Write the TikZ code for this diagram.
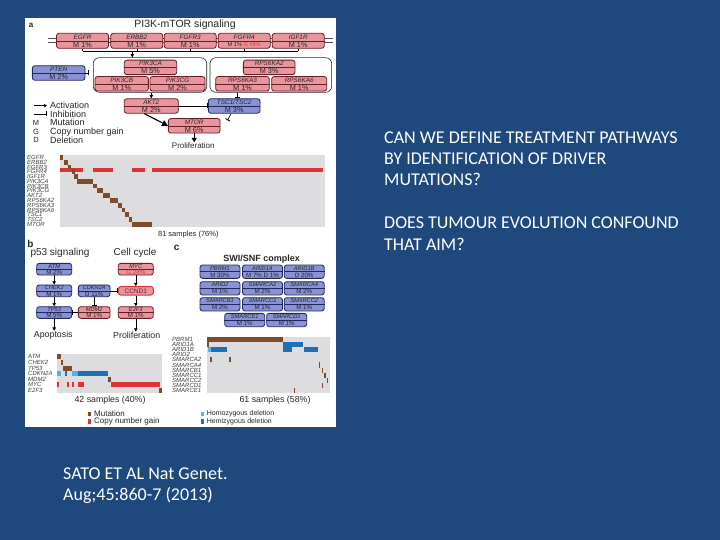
\documentclass[tikz,border=0pt]{standalone}
\usepackage{fontspec}
\setmainfont{Carlito}
\newfontfamily\figfont{Liberation Sans}
\usetikzlibrary{arrows.meta,calc}
\definecolor{slideblue}{RGB}{31,73,125}
\definecolor{boxpink}{RGB}{232,150,158}
\definecolor{boxred}{RGB}{105,28,38}
\definecolor{boxblue}{RGB}{136,146,212}
\definecolor{boxnavy}{RGB}{34,38,94}
\definecolor{oncogray}{RGB}{221,221,224}
\definecolor{mutbrown}{RGB}{128,74,44}
\definecolor{cnred}{RGB}{222,50,52}
\definecolor{hemiblue}{RGB}{32,110,182}
\definecolor{homoblue}{RGB}{72,182,232}

\begin{document}
\begin{tikzpicture}[x=1pt, y=-1pt, font=\figfont,
  gbox/.style={rounded corners=2.5pt, line width=0.8pt, inner sep=0pt},
  pinkbox/.style={gbox, draw=boxred, fill=boxpink},
  bluebox/.style={gbox, draw=boxnavy, fill=boxblue},
  grpbox/.style={draw=black!85, rounded corners=6pt, line width=0.6pt, inner sep=0pt},
  gname/.style={inner sep=0pt, text=black!85, font=\figfont\itshape\fontsize{6.4}{6.4}\selectfont},
  gval/.style={inner sep=0pt, text=black!85, font=\figfont\fontsize{7.3}{7.3}\selectfont},
  sname/.style={gname, font=\figfont\itshape\fontsize{5.7}{5.7}\selectfont},
  sval/.style={gval, font=\figfont\fontsize{6.2}{6.2}\selectfont},
  act/.style={-{Triangle[length=3.2pt,width=3.4pt]}, line width=0.6pt},
  inh/.style={-{Bar[width=5pt,line width=0.9pt]}, line width=0.6pt},
  rowlbl/.style={anchor=west, inner sep=0pt, text=black!75, font=\figfont\itshape\fontsize{6}{6}\selectfont},
  figtxt/.style={inner sep=0pt, text=black!85},
  slidetxt/.style={anchor=base west, inner sep=0pt, text=white, font=\rmfamily\fontsize{18}{21}\selectfont}]
  \useasboundingbox (0,0) rectangle (720,540);
  \fill[slideblue] (0,0) rectangle (720,540);
  % figure panel
  \fill[white] (25,18) rectangle (336,427);

  % ---- a: PI3K-mTOR pathway
  \node[figtxt, font=\figfont\bfseries\fontsize{8}{8}\selectfont] (lbla) at (31,25) {a};
  \node[figtxt, font=\figfont\fontsize{10.5}{10.5}\selectfont] (titlea) at (185,25) {PI3K-mTOR signaling};
  % membrane
  \draw[line width=0.5pt, black!70] (48,38.3) -- (333,38.3) (48,42.6) -- (333,42.6);
  % receptors
  \foreach \n/\x/\g in {egfr/82.5/EGFR, erbb2/136.8/ERBB2, fgfr3/190.2/FGFR3, fgfr4/244.2/FGFR4, igf1r/298.2/IGF1R}{
    \node[pinkbox, minimum width=52pt, minimum height=15pt] (\n) at (\x,40.8) {};
    \draw[boxred, line width=0.5pt] (\n.west) -- (\n.east);
    \node[gname] (\n-g) at ($(\n.center)!0.5!(\n.north)$) {\g};}
  \foreach \n in {egfr,erbb2,fgfr3,igf1r}{
    \node[gval] (\n-v) at ($(\n.center)!0.5!(\n.south)$) {M 1\%};}
  \node[gval, font=\figfont\fontsize{5.6}{5.6}\selectfont] (fgfr4-v) at ($(fgfr4.center)!0.5!(fgfr4.south)$) {M 1\% \textcolor{cnred}{G 48\%}};
  % receptor bus
  \coordinate (bus) at (82.5,51);
  \foreach \n in {egfr,erbb2,fgfr3,fgfr4,igf1r}{\draw[line width=0.6pt] (\n.south) -- (\n.south |- bus);}
  \draw[line width=0.6pt] (egfr.south |- bus) -- (igf1r.south |- bus);
  \coordinate (busout) at (132.3,51);
  % groups
  \node[grpbox, minimum width=113.4pt, minimum height=34.6pt] (pikgrp) at (150,75) {};
  \node[grpbox, minimum width=121.7pt, minimum height=34.6pt] (rpsgrp) at (270.8,75) {};
  \draw[act] (busout) -- (busout |- pikgrp.north);
  % pathway members
  \foreach \s/\n/\x/\y/\w/\g/\v in {
      bluebox/pten/58.7/73/52.7/PTEN/M 2\%,
      pinkbox/pik3ca/150.5/67.4/52.4/PIK3CA/M 5\%,
      pinkbox/pik3cb/121.7/83.8/53.3/PIK3CB/M 1\%,
      pinkbox/pik3cg/177.5/83.8/55/PIK3CG/M 2\%,
      pinkbox/rps6ka2/269.2/67.4/51.7/RPS6KA2/M 3\%,
      pinkbox/rps6ka3/242.5/83.8/53.6/RPS6KA3/M 1\%,
      pinkbox/rps6ka6/299.2/83.8/55/RPS6KA6/M 1\%,
      pinkbox/akt2/151.3/106/54/AKT2/M 2\%,
      bluebox/tsc/234.2/106/51.7/{TSC1/TSC2}/M 3\%,
      pinkbox/mtor/194.2/125.8/51.7/MTOR/M 6\%}{
    \node[\s, minimum width=\w, minimum height=14.5pt] (\n) at (\x,\y) {};
    \draw[\s, fill=none, line width=0.5pt] (\n.west) -- (\n.east);
    \node[gname] (\n-g) at ($(\n.center)!0.5!(\n.north)$) {\g};
    \node[gval] (\n-v) at ($(\n.center)!0.5!(\n.south)$) {\v};}
  % interactions
  \draw[inh] (pten.east) -- ($(pikgrp.west |- pten.east)+(-4,0)$);
  \draw[act] (akt2.north |- pikgrp.south) -- (akt2.north);
  \coordinate (tscin) at ($(tsc.north)+(3,0)$);
  \draw[inh] (tscin |- rpsgrp.south) -- (tscin);
  \draw[inh] (akt2.east) -- (tsc.west);
  \draw[-{Triangle[length=6pt,width=6pt]}, line width=1.1pt] ($(akt2.south)+(-7,0)$) -- (mtor.west);
  \draw[inh] ($(tsc.south)+(-3,0)$) -- ($(mtor.north east)+(7,2)$);
  \node[figtxt, font=\figfont\fontsize{8}{8}\selectfont] (prolifa) at (193.3,145.5) {Proliferation};
  \draw[-{Triangle[length=4.5pt,width=5pt]}, line width=1pt] (mtor.south) -- (mtor.south |- prolifa.north);
  % legend
  \foreach \t/\yy [count=\i] in {Activation/105.7, Inhibition/114, Mutation/122.7, Copy number gain/131.7, Deletion/140}{
    \node[figtxt, anchor=west, font=\figfont\fontsize{9}{9}\selectfont] (leg\i) at (50,\yy) {\t};}
  \coordinate (act0) at (34,105.7);
  \coordinate (inh0) at (34,114);
  \draw[act] (act0) -- ($(leg1.west)+(-3,0)$);
  \draw[inh] (inh0) -- ($(leg2.west)+(-3,0)$);
  \foreach \t/\yy in {M/122.7, G/131.7, D/140}{
    \node[figtxt, font=\figfont\fontsize{7.5}{7.5}\selectfont] (key\t) at (36,\yy) {\t};}

  % ---- a: oncoprint
  \fill[oncogray] (60,155) rectangle (325,226.7);
  \foreach \g [count=\i] in {EGFR,ERBB2,FGFR3,FGFR4,IGF1R,PIK3CA,PIK3CB,PIK3CG,AKT2,RPS6KA2,RPS6KA3,RPS6KA6,TSC1,TSC2,MTOR}{
    \node[rowlbl] (ra\i) at (27,{155+(\i-0.5)*4.78}) {\g};}
  \foreach \xa/\xb in {60/83.3, 93.3/113.3, 131.7/145, 151.7/323.3}{
    \fill[cnred] (\xa,167.7) rectangle (\xb,172.2);}
  \foreach \r/\xa/\xb in {1/60/63.3, 2/64.3/67.7, 3/67.7/71, 4/71.7/75, 5/74.3/77.7, 6/76.7/93.3, 7/93.3/96.7, 8/96.7/103.3,
      9/103.3/110, 10/110/118.3, 11/118.3/121.7, 12/121.7/125, 13/125/129, 14/129/132.3, 15/132.3/151.7}{
    \fill[mutbrown] (\xa,{155+(\r-1)*4.78}) rectangle (\xb,{155+\r*4.78});}
  \node[figtxt, font=\figfont\fontsize{7.5}{7.5}\selectfont] (cnta) at (188.3,234.3) {81 samples (76\%)};

  % ---- b: p53 and cell cycle
  \node[figtxt, font=\figfont\bfseries\fontsize{10}{10}\selectfont] (lblb) at (30.5,244) {b};
  \node[figtxt, font=\figfont\fontsize{10}{10}\selectfont] (p53t) at (60,253.3) {p53 signaling};
  \node[figtxt, font=\figfont\fontsize{10}{10}\selectfont] (cyct) at (135,253.3) {Cell cycle};
  \foreach \s/\n/\x/\y/\w/\g/\v in {
      bluebox/atm/54.2/269.2/35/ATM/M 2\%,
      bluebox/chek2/54.2/290.8/35/CHEK2/M 1\%,
      bluebox/tp53/54.2/312.5/35/TP53/M 5\%,
      bluebox/cdkn2a/94.2/290.8/31.7/CDKN2A/D 11\%,
      pinkbox/mdm2/94.2/312.5/31.7/MDM2/M 1\%,
      pinkbox/myc/135.8/269.2/35/MYC/{\textcolor{cnred}{G 28\%}},
      pinkbox/e2f3/135.8/312.5/35/E2F3/M 1\%}{
    \node[\s, minimum width=\w, minimum height=11.7pt] (\n) at (\x,\y) {};
    \draw[\s, fill=none, line width=0.5pt] (\n.west) -- (\n.east);
    \node[sname] (\n-g) at ($(\n.center)!0.5!(\n.north)$) {\g};
    \node[sval] (\n-v) at ($(\n.center)!0.5!(\n.south)$) {\v};}
  \node[pinkbox, draw=cnred, line width=1pt, minimum width=35pt, minimum height=8.5pt, text=boxred,
    font=\figfont\fontsize{6.5}{6.5}\selectfont] (ccnd1) at (135.8,290.8) {CCND1};
  \node[figtxt, font=\figfont\fontsize{8.8}{8.8}\selectfont] (apop) at (53.3,335) {Apoptosis};
  \node[figtxt, font=\figfont\fontsize{8.8}{8.8}\selectfont] (prolifb) at (136.7,335) {Proliferation};
  \draw[act] (atm) -- (chek2);
  \draw[act] (chek2) -- (tp53);
  \draw[act] (tp53.south) -- (tp53.south |- apop.north);
  \draw[inh] (cdkn2a) -- (mdm2);
  \draw[inh] (mdm2) -- (tp53);
  \draw[inh] (cdkn2a) -- (ccnd1);
  \draw[act] (myc) -- (ccnd1);
  \draw[act] (ccnd1) -- (e2f3);
  \draw[act] (e2f3.south) -- (e2f3.south |- prolifb.north);

  % ---- c: SWI/SNF complex
  \node[figtxt, font=\figfont\bfseries\fontsize{10}{10}\selectfont] (lblc) at (176.7,248.3) {c};
  \node[figtxt, font=\figfont\bfseries\fontsize{9}{9}\selectfont] (swit) at (261.7,259) {SWI/SNF complex};
  \foreach \n/\x/\y/\g/\v in {
      pbrm1/220/271.7/PBRM1/M 30\%, arid1a/262.5/271.7/ARID1A/M 7\% D 1\%, arid1b/304.2/271.7/ARID1B/D 20\%,
      arid2/220/288.3/ARID2/M 1\%, smarca2/262.5/288.3/SMARCA2/M 2\%, smarca4/304.2/288.3/SMARCA4/M 2\%,
      smarcb1/220/304.3/SMARCB1/M 2\%, smarcc1/262.5/304.3/SMARCC1/M 1\%, smarcc2/304.2/304.3/SMARCC2/M 1\%,
      smarce1/244.7/320/SMARCE1/M 1\%, smarcd1/286.7/320/SMARCD1/M 1\%}{
    \node[bluebox, minimum width=40pt, minimum height=13.3pt] (\n) at (\x,\y) {};
    \draw[boxnavy, line width=0.5pt] (\n.west) -- (\n.east);
    \node[sname] (\n-g) at ($(\n.center)!0.5!(\n.north)$) {\g};
    \node[sval] (\n-v) at ($(\n.center)!0.5!(\n.south)$) {\v};}

  % ---- b: oncoprint
  \fill[oncogray] (56.7,354) rectangle (161.7,393.3);
  \foreach \g [count=\i] in {ATM,CHEK2,TP53,CDKN2A,MDM2,MYC,E2F3}{
    \node[rowlbl] (rb\i) at (28,{354+(\i-0.5)*5.614}) {\g};}
  \foreach \r/\xa/\xb/\col in {1/56.7/61/mutbrown, 2/61/63.3/mutbrown, 3/63.3/71.7/mutbrown,
      4/56.7/60.5/homoblue, 4/64.5/66.5/hemiblue, 4/71.7/78.3/homoblue, 4/78.3/108.3/hemiblue,
      5/108.3/111/mutbrown, 6/56.7/59/cnred, 6/66.7/69/cnred, 6/71.7/74/cnred, 6/78.3/84.3/cnred,
      6/111/160/cnred, 7/159.3/161.7/mutbrown}{
    \fill[\col] (\xa,{354+(\r-1)*5.614+0.3}) rectangle (\xb,{354+\r*5.614-0.3});}
  \node[figtxt, font=\figfont\fontsize{8.8}{8.8}\selectfont] (cntb) at (110,400.7) {42 samples (40\%)};

  % ---- c: oncoprint
  \fill[oncogray] (206.7,336.7) rectangle (330,393.3);
  \foreach \g [count=\i] in {PBRM1,ARID1A,ARID1B,ARID2,SMARCA2,SMARCA4,SMARCB1,SMARCC1,SMARCC2,SMARCD1,SMARCE1}{
    \node[rowlbl] (rc\i) at (172,{336.7+(\i-0.5)*5.145}) {\g};}
  \foreach \r/\xa/\xb/\col in {1/206.7/283.3/mutbrown, 2/206.7/209/mutbrown, 2/283.3/303.3/hemiblue,
      3/208.3/210.5/homoblue, 3/210.5/226.7/hemiblue, 3/283.3/291.7/hemiblue, 3/304.3/318.3/hemiblue,
      5/210/211.6/mutbrown, 5/229/230.6/mutbrown, 6/318.7/320.3/mutbrown, 7/321.7/323.3/mutbrown,
      8/324.3/326/mutbrown, 9/326.5/328.3/mutbrown, 10/321.7/323.3/mutbrown, 11/293.5/295.1/mutbrown}{
    \fill[\col] (\xa,{336.7+(\r-1)*5.145}) rectangle (\xb,{336.7+\r*5.145});}
  \node[figtxt, font=\figfont\fontsize{8.8}{8.8}\selectfont] (cntc) at (275,400.7) {61 samples (58\%)};

  % ---- bottom legend
  \foreach \col/\xx/\yy/\t/\fs [count=\i] in {mutbrown/88.3/414/Mutation/8, cnred/88.3/421.7/Copy number gain/8,
      homoblue/201/414/Homozygous deletion/7, hemiblue/201/421.7/Hemizygous deletion/7}{
    \fill[\col] (\xx,\yy-2.3) rectangle (\xx+2.5,\yy+2.3);
    \node[figtxt, anchor=west, font=\figfont\fontsize{\fs}{\fs}\selectfont] (key\i) at (\xx+5.7,\yy) {\t};}

  % ---- slide text
  \foreach \t/\yy [count=\i] in {CAN WE DEFINE TREATMENT PATHWAYS/144, BY IDENTIFICATION OF DRIVER/165,
      MUTATIONS?/186, DOES TUMOUR EVOLUTION CONFOUND/228.3, THAT AIM?/250}{
    \node[slidetxt] (q\i) at (384,\yy) {\t};}
  \node[slidetxt] (ref1) at (63,479) {SATO ET AL Nat Genet.};
  \node[slidetxt] (ref2) at (63,500) {Aug;45:860-7 (2013)};
\end{tikzpicture}
\end{document}
